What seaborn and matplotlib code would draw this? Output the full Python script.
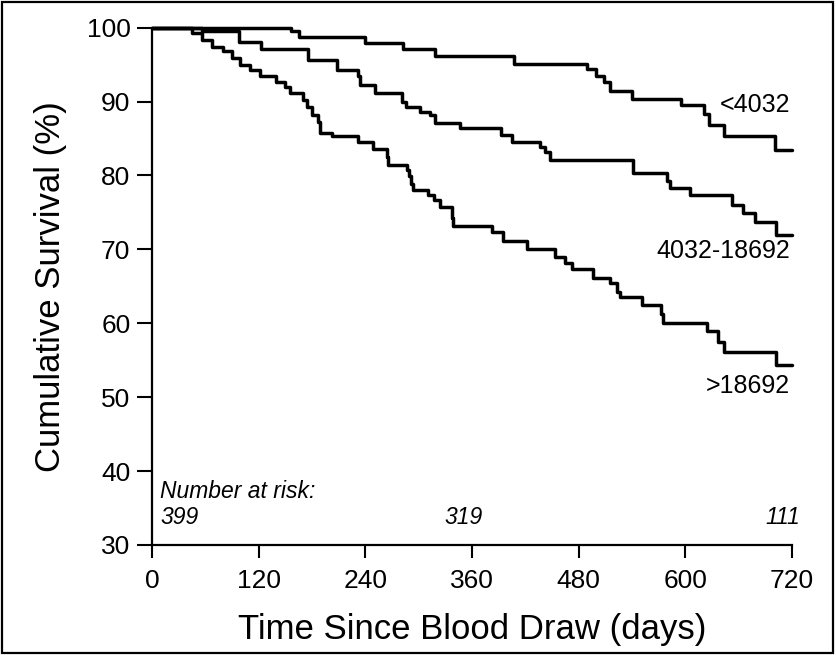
import numpy as np
import pandas as pd
import matplotlib
matplotlib.use("Agg")
import matplotlib.pyplot as plt
from matplotlib.patches import Rectangle
import seaborn as sns

# Kaplan-Meier step curves (day of step, survival % after step)
low_days = [0, 156, 165, 240, 282, 318, 407, 489, 499, 508, 515, 540, 595, 621, 627, 644, 701, 720]
low_surv = [100, 99.5, 98.7, 97.9, 97.1, 96.2, 95.1, 94.4, 93.5, 92.6, 91.4, 90.4, 89.6, 88.3, 86.9, 85.4, 83.5, 83.5]

mid_days = [0, 56, 98, 123, 176, 208, 232, 234, 251, 281, 286, 301, 313, 318, 346, 393, 405,
            437, 442, 448, 541, 579, 583, 605, 653, 665, 678, 702, 720]
mid_surv = [100, 99.5, 98.0, 97.1, 95.6, 94.3, 93.4, 92.3, 91.1, 90.0, 89.3, 88.6, 88.2, 87.1, 86.4, 85.5, 84.5,
            83.9, 83.2, 82.1, 80.3, 79.2, 78.3, 77.4, 76.0, 74.9, 73.7, 72.0, 72.0]

high_days = [0, 45, 56, 67, 80, 90, 99, 110, 122, 140, 150, 155, 170, 174, 180, 187, 189, 202, 232, 249,
             264, 266, 287, 289, 291, 294, 311, 317, 324, 337, 339, 382, 395, 422, 453, 465, 472, 496,
             515, 523, 526, 551, 573, 575, 624, 637, 643, 702, 720]
high_surv = [100, 99.3, 98.3, 97.4, 96.8, 95.9, 95.0, 94.3, 93.4, 92.7, 92.0, 91.1, 90.2, 89.3, 88.2, 87.3, 85.7,
             85.3, 84.6, 83.6, 82.5, 81.4, 80.8, 79.9, 78.8, 78.0, 77.4, 76.7, 75.8, 74.2, 73.1, 72.4, 71.1,
             70.0, 69.0, 68.2, 67.3, 66.1, 65.5, 64.3, 63.5, 62.5, 61.2, 60.1, 58.9, 57.4, 56.1, 54.4, 54.4]

groups = ["<4032", "4032-18692", ">18692"]
label_y = [89.5, 69.8, 51.5]

risk_days = [0, 360, 720]
risk_counts = ["399", "319", "111"]

df = pd.DataFrame(dict(
    day=low_days + mid_days + high_days,
    survival=low_surv + mid_surv + high_surv,
    group=[groups[0]] * len(low_days) + [groups[1]] * len(mid_days) + [groups[2]] * len(high_days),
))

sns.set_style("ticks")
plt.rcParams["font.family"] = ["Liberation Sans", "DejaVu Sans"]
for k in ["text.color", "axes.labelcolor", "xtick.color", "ytick.color", "axes.edgecolor"]:
    plt.rcParams[k] = "black"

fig = plt.figure(figsize=(8.36, 6.55), dpi=100)
ax = fig.add_axes([0.1818, 0.168, 0.7656, 0.7897])

sns.lineplot(data=df, x="day", y="survival", hue="group",
             palette={g: "black" for g in groups}, estimator=None, sort=False,
             drawstyle="steps-post", linewidth=2.5, legend=False, clip_on=False, ax=ax)

ax.set_xlim(0, 720)
ax.set_ylim(30, 100)
ax.set_xticks(np.arange(0, 721, 120))
ax.set_yticks(np.arange(30, 101, 10))
sns.despine(ax=ax)
for s in ["left", "bottom"]:
    ax.spines[s].set_linewidth(1.6)
ax.tick_params(axis="x", direction="out", length=9.5, width=1.5, pad=8, labelsize=19)
ax.tick_params(axis="y", direction="out", length=10.5, width=1.5, pad=5, labelsize=19)

ax.set_xlabel("Time Since Blood Draw (days)", fontsize=25, labelpad=14)
ax.set_ylabel("Cumulative Survival (%)", fontsize=25, labelpad=14)

for g, y in zip(groups, label_y):
    ax.text(718, y, g, ha="right", va="center", fontsize=18)

ax.text(9, 37.3, "Number at risk:", style="italic", ha="left", va="center", fontsize=16.5)
ax.text(9, 33.7, risk_counts[0], style="italic", ha="left", va="center", fontsize=16.5)
ax.text(351, 33.7, risk_counts[1], style="italic", ha="center", va="center", fontsize=16.5)
ax.text(729, 33.7, risk_counts[2], style="italic", ha="right", va="center", fontsize=16.5)

fig.add_artist(Rectangle((0.002, 0.003), 0.995, 0.994, transform=fig.transFigure,
                         fill=False, edgecolor="black", linewidth=1.6))

plt.savefig("out.png", dpi=100)
